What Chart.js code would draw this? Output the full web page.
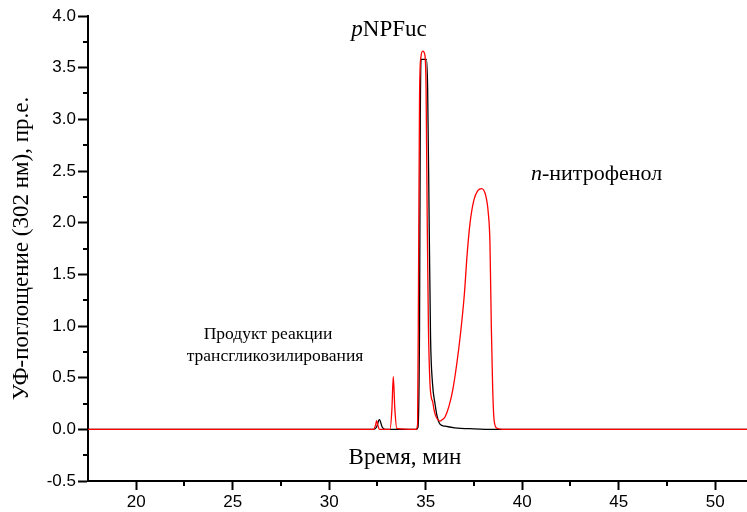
<!DOCTYPE html>
<html>
<head>
<meta charset="utf-8">
<script src="https://cdn.jsdelivr.net/npm/chart.js@4.4.1/dist/chart.umd.min.js"></script>
<style>
  html, body { margin: 0; padding: 0; background: #fff; }
  #wrap { width: 747px; height: 512px; }
</style>
</head>
<body>
<div id="wrap"><canvas id="hplc" width="747" height="512"></canvas></div>
<script>
// retention time (min) and absorbance for the reaction mixture (red trace)
const reactionTime = [17.5, 30.0, 32.3, 32.4, 32.46, 32.52, 32.6, 33.15, 33.25, 33.32, 33.4, 33.5,
  34.5, 34.58, 34.63, 34.68, 34.75, 34.85, 34.95, 35.02, 35.08, 35.14, 35.22, 35.3, 35.36, 35.42,
  35.5, 35.6, 35.74, 35.9, 36.0, 36.2, 36.4, 36.6, 36.8, 37.0, 37.15, 37.3, 37.5, 37.7, 37.9,
  38.1, 38.24, 38.33, 38.4, 38.47, 38.55, 38.7, 39.0, 51.7];
const reactionAbs = [0, 0, 0, 0.04, 0.085, 0.04, 0, 0, 0.2, 0.51, 0.2, 0.01,
  0, 0.05, 1.5, 3.2, 3.6, 3.66, 3.63, 3.3, 2.0, 1.0, 0.45, 0.3, 0.27, 0.2,
  0.14, 0.1, 0.08, 0.1, 0.12, 0.22, 0.38, 0.62, 0.92, 1.3, 1.7, 2.0, 2.22, 2.31, 2.33,
  2.27, 2.1, 1.8, 1.0, 0.4, 0.08, 0.01, 0, 0];

// substrate control (black trace)
const controlTime = [17.5, 30.0, 32.3, 32.45, 32.6, 32.75, 32.9, 34.5, 34.6, 34.68, 34.72, 34.76,
  35.04, 35.1, 35.18, 35.25, 35.35, 35.48, 35.6, 35.74, 36.0, 36.5, 37.5, 38.5, 51.7];
const controlAbs = [0, 0, 0, 0.02, 0.094, 0.02, 0, 0, 0.02, 1.0, 3.0, 3.58,
  3.58, 3.3, 2.0, 0.9, 0.45, 0.25, 0.12, 0.05, 0.03, 0.015, 0.005, 0, 0];

const xTicks = [20, 25, 30, 35, 40, 45, 50];
const xMinor = [22.5, 27.5, 32.5, 37.5, 42.5, 47.5];
const yTicks = [-0.5, 0.0, 0.5, 1.0, 1.5, 2.0, 2.5, 3.0, 3.5, 4.0];
const yMinor = [-0.25, 0.25, 0.75, 1.25, 1.75, 2.25, 2.75, 3.25, 3.75];

const SERIF = '"Liberation Serif", "Times New Roman", serif';
const SANS = '"Liberation Sans", Arial, sans-serif';

function toPoints(xs, ys) {
  return xs.map((x, i) => ({ x: x, y: ys[i] }));
}

// short minor ticks between the labelled ones
const minorTicks = {
  id: 'minorTicks',
  afterDraw(chart) {
    const ctx = chart.ctx;
    const xs = chart.scales.x, ys = chart.scales.y;
    const area = chart.chartArea;
    ctx.save();
    ctx.strokeStyle = '#000';
    ctx.lineWidth = 2;
    ctx.beginPath();
    xMinor.forEach(v => {
      const px = Math.round(xs.getPixelForValue(v));
      ctx.moveTo(px, area.bottom);
      ctx.lineTo(px, area.bottom + 5);
    });
    yMinor.forEach(v => {
      const py = Math.round(ys.getPixelForValue(v));
      ctx.moveTo(area.left, py);
      ctx.lineTo(area.left - 5, py);
    });
    ctx.stroke();
    ctx.restore();
  }
};

// draws a run of text pieces, some of them italic
function richText(ctx, parts, x, y, size, align) {
  let total = 0;
  parts.forEach(p => {
    ctx.font = (p.italic ? 'italic ' : '') + size + 'px ' + SERIF;
    p.w = ctx.measureText(p.text).width;
    total += p.w;
  });
  let cx = align === 'center' ? x - total / 2 : x;
  parts.forEach(p => {
    ctx.font = (p.italic ? 'italic ' : '') + size + 'px ' + SERIF;
    ctx.fillText(p.text, cx, y);
    cx += p.w;
  });
}

const labels = {
  id: 'labels',
  afterDraw(chart) {
    const ctx = chart.ctx;
    ctx.save();
    ctx.fillStyle = '#000';
    ctx.textBaseline = 'alphabetic';
    ctx.textAlign = 'left';
    richText(ctx, [{ text: 'p', italic: true }, { text: 'NPFuc' }], 389, 36, 23, 'center');
    richText(ctx, [{ text: 'n', italic: true }, { text: '-нитрофенол' }], 531, 180, 22, 'left');
    ctx.textAlign = 'center';
    ctx.font = '17.5px ' + SERIF;
    ctx.fillText('Продукт реакции', 268, 339);
    ctx.fillText('трансгликозилирования', 275, 361);
    ctx.font = '23px ' + SERIF;
    ctx.fillText('Время, мин', 405, 464);
    ctx.restore();
  }
};

new Chart(document.getElementById('hplc'), {
  type: 'line',
  data: {
    datasets: [
      {
        label: 'reaction',
        data: toPoints(reactionTime, reactionAbs),
        borderColor: '#ff0000',
        borderWidth: 1.3,
        pointRadius: 0,
        cubicInterpolationMode: 'monotone',
        fill: false
      },
      {
        label: 'control',
        data: toPoints(controlTime, controlAbs),
        borderColor: '#000000',
        borderWidth: 1.3,
        pointRadius: 0,
        cubicInterpolationMode: 'monotone',
        fill: false
      }
    ]
  },
  options: {
    responsive: false,
    animation: false,
    events: [],
    layout: { padding: { top: 16, right: 0, left: 0, bottom: 0 } },
    plugins: { legend: { display: false }, tooltip: { enabled: false } },
    scales: {
      x: {
        type: 'linear',
        min: 17.5,
        max: 51.65,
        afterFit: s => { s.height = 31; },
        afterBuildTicks: s => { s.ticks = xTicks.map(v => ({ value: v })); },
        border: { display: true, color: '#000', width: 2 },
        grid: { drawOnChartArea: false, drawTicks: true, tickLength: 9, tickWidth: 2, tickColor: '#000' },
        ticks: { color: '#000', font: { family: SANS, size: 17 }, padding: 2, maxRotation: 0 }
      },
      y: {
        type: 'linear',
        min: -0.5,
        max: 4.0,
        afterFit: s => { s.width = 88; },
        afterBuildTicks: s => { s.ticks = yTicks.map(v => ({ value: v })); },
        border: { display: true, color: '#000', width: 2 },
        grid: { drawOnChartArea: false, drawTicks: true, tickLength: 10, tickWidth: 2, tickColor: '#000' },
        ticks: { color: '#000', font: { family: SANS, size: 17 }, padding: 2, callback: v => v.toFixed(1) },
        title: {
          display: true,
          text: 'УФ-поглощение (302 нм), пр.е.',
          color: '#000',
          font: { family: SERIF, size: 23 },
          padding: { top: 8, bottom: 0 }
        }
      }
    }
  },
  plugins: [minorTicks, labels]
});
</script>
</body>
</html>
